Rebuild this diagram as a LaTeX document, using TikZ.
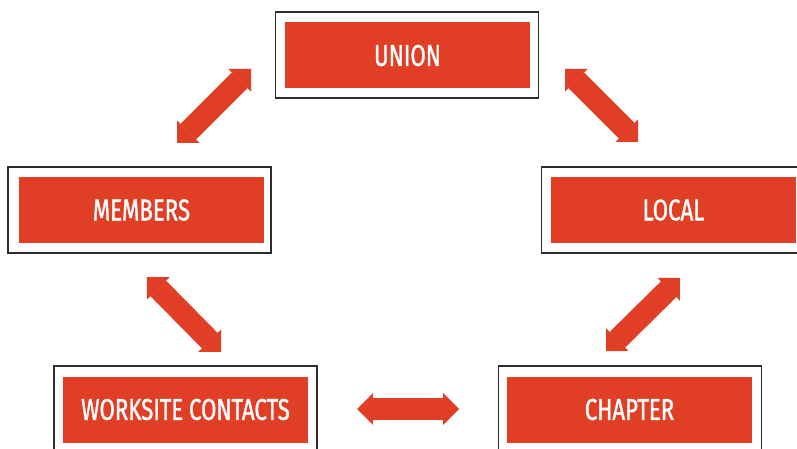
\documentclass[tikz,border=0pt]{standalone}
\usepackage{fontspec}
\newfontfamily\boxfont{Fira Sans}[FakeStretch=0.74, FakeBold=1.2]
\usetikzlibrary{arrows.meta}
\definecolor{brandred}{RGB}{225,63,37}
\definecolor{frame}{RGB}{45,45,45}
\tikzset{
  outerbox/.style={draw=frame, line width=1.5pt, fill=white, minimum width=263pt, minimum height=86pt, inner sep=0pt},
  innerbox/.style={fill=brandred, text=white, minimum width=245pt, minimum height=66pt, inner sep=0pt,
    font=\boxfont\fontsize{30}{32}\selectfont},
  link/.style={draw=brandred, line width=22pt,
    {Triangle[length=16pt,width=32pt,line width=0pt]}-{Triangle[length=16pt,width=32pt,line width=0pt]}}
}
\begin{document}
\begin{tikzpicture}[x=1pt,y=-1pt]
\useasboundingbox (0,0) rectangle (797,449);
\clip (0,0) rectangle (797,449);
% boxes
\node[outerbox] (unionO) at (407,55) {};
\node[innerbox] (union) at (407.5,55.5) {UNION};
\node[outerbox] (membersO) at (139.5,210) {};
\node[innerbox] (members) at (141.5,210) {MEMBERS};
\node[outerbox] (localO) at (673,210) {};
\node[innerbox] (local) at (673.5,210) {LOCAL};
\node[outerbox] (worksiteO) at (185.5,409) {};
\node[innerbox] (worksite) at (185.5,409.5) {WORKSITE CONTACTS};
\node[outerbox] (chapterO) at (630,409) {};
\node[innerbox] (chapter) at (629.5,409.5) {CHAPTER};
% arrow end points
\coordinate (a1s) at (251,69);  \coordinate (a1e) at (177,143);
\coordinate (a2s) at (565,69);  \coordinate (a2e) at (638,142);
\coordinate (a3s) at (147,277); \coordinate (a3e) at (221,352);
\coordinate (a4s) at (680,278); \coordinate (a4e) at (606,351);
\coordinate (a5s) at (357,409); \coordinate (a5e) at (459,409);
\draw[link] (a1s) -- (a1e);
\draw[link] (a2s) -- (a2e);
\draw[link] (a3s) -- (a3e);
\draw[link] (a4s) -- (a4e);
\draw[link] (a5s) -- (a5e);
\end{tikzpicture}
\end{document}
